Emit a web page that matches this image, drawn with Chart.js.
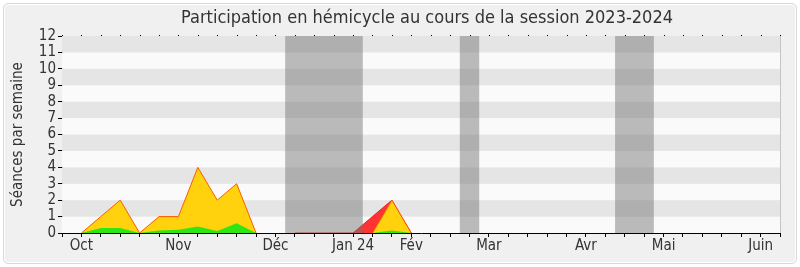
<!DOCTYPE html>
<html lang="fr">
<head>
<meta charset="utf-8">
<script src="https://cdn.jsdelivr.net/npm/chart.js@4/dist/chart.umd.min.js"></script>
<style>
  html, body { margin: 0; padding: 0; background: #ffffff; }
  #wrap { position: relative; width: 800px; height: 267px; }
  #frame {
    position: absolute; left: 3px; top: 3px; right: 3px; bottom: 3px;
    background: #f0f0f0; border: 1px solid #d8d8d8; border-radius: 5px;
    box-shadow: inset 0 0 0 1px #ffffff;
  }
  canvas { position: absolute; left: 0; top: 0; }
</style>
</head>
<body>
<div id="wrap">
  <div id="frame"></div>
  <canvas id="chart" width="800" height="267"></canvas>
</div>
<script>
// Week index 0 = last week of September 2023, 37 = end of June 2024
const weekCount = 37;

// Month labels and the week index they sit on
const monthLabels = ['Oct', 'Nov', 'Déc', 'Jan 24', 'Fév', 'Mar', 'Avr', 'Mai', 'Juin'];
const monthWeeks = [1, 6, 11, 15, 18, 22, 27, 31, 36];

// Parliamentary recess periods (week index ranges)
const recessStart = [11.5, 20.5, 28.5];
const recessEnd = [15.5, 21.5, 30.5];

// Sittings attended per week (null = no data)
const presences = [null, 0, 1, 2, 0, 1, 1, 4, 2, 3, 0, null, null, null, null, null, 0, 2, 0,
  null, null, null, null, null, null, null, null, null, null, null, null, null, null, null, null, null, null, null];
// Sittings with a speech per week
const interventions = [null, 0, 0.3, 0.3, 0, 0.15, 0.2, 0.4, 0.12, 0.6, 0, null, null, null, null, null, 0, 0.15, 0,
  null, null, null, null, null, null, null, null, null, null, null, null, null, null, null, null, null, null, null];
// Sittings held during the extraordinary period
const extraordinaires = [null, null, null, null, null, null, null, null, null, null, null, null, 0, 0, 0, 0, 1, 2, 0,
  null, null, null, null, null, null, null, null, null, null, null, null, null, null, null, null, null, null, null];

// Y axis range
const yMax = 12;

const toPoints = arr => arr.map((v, i) => ({ x: i, y: v }));

const FONT = "'DejaVu Sans Condensed', 'DejaVu Sans', sans-serif";
const TEXT = '#333333';

const backgroundPlugin = {
  id: 'sessionBackground',
  afterLayout(chart) {
    // nudge the title slightly to the right of the plot centre
    const t = chart.titleBlock;
    if (t) { t.left += 6; t.right += 6; }
  },
  beforeDatasetsDraw(chart) {
    const { ctx, chartArea: a, scales: { y } } = chart;
    ctx.save();
    // alternating horizontal stripes, one per unit
    for (let k = 0; k < yMax; k++) {
      const top = y.getPixelForValue(k + 1);
      const bottom = y.getPixelForValue(k);
      ctx.fillStyle = (k % 2 === 1) ? '#e5e5e5' : '#fafafa';
      ctx.fillRect(a.left, top, a.right - a.left, bottom - top);
    }
    ctx.restore();
  },
  afterDatasetsDraw(chart) {
    const { ctx, chartArea: a, scales: { x } } = chart;
    ctx.save();
    // recess shading, laid over the areas
    ctx.fillStyle = 'rgba(118,118,118,0.48)';
    for (let i = 0; i < recessStart.length; i++) {
      const l = x.getPixelForValue(recessStart[i]);
      const r = x.getPixelForValue(recessEnd[i]);
      ctx.fillRect(l, a.top, r - l, a.bottom - a.top);
    }
    ctx.restore();
  },
  afterDraw(chart) {
    const { ctx, chartArea: a, scales: { x } } = chart;
    ctx.save();
    // small tick dots along the top edge
    ctx.fillStyle = '#000000';
    for (let w = 0; w <= weekCount; w++) {
      const px = Math.round(x.getPixelForValue(w));
      ctx.fillRect(px, a.top - 1, 1, 1);
    }
    // right edge of the plot
    ctx.fillStyle = '#c4c4c4';
    ctx.fillRect(Math.round(a.right), a.top, 1, a.bottom - a.top);
    ctx.restore();
  }
};

new Chart(document.getElementById('chart'), {
  type: 'line',
  data: {
    datasets: [
      {
        label: 'Interventions',
        data: toPoints(interventions),
        backgroundColor: '#2ee614',
        borderColor: '#2ee614',
        borderWidth: 0,
        fill: 'origin',
        pointRadius: 0,
        tension: 0,
        spanGaps: false
      },
      {
        label: 'Présences',
        data: toPoints(presences),
        backgroundColor: '#ffd20d',
        borderColor: '#ff5a00',
        borderWidth: 1,
        fill: 'origin',
        pointRadius: 0,
        tension: 0,
        spanGaps: false
      },
      {
        label: 'Session extraordinaire',
        data: toPoints(extraordinaires),
        backgroundColor: '#ff3333',
        borderColor: '#e82020',
        borderWidth: 1,
        fill: 'origin',
        pointRadius: 0,
        tension: 0,
        spanGaps: false
      }
    ]
  },
  options: {
    responsive: false,
    devicePixelRatio: 1,
    animation: false,
    layout: { padding: { left: 0, right: 20, top: 0, bottom: 0 } },
    plugins: {
      legend: { display: false },
      tooltip: { enabled: false },
      title: {
        display: true,
        fullSize: false,
        text: 'Participation en hémicycle au cours de la session 2023-2024',
        color: TEXT,
        font: { family: FONT, size: 18, weight: 'normal' },
        padding: { top: 8, bottom: 6.4 }
      }
    },
    scales: {
      x: {
        type: 'linear',
        min: 0,
        max: weekCount,
        afterFit(axis) { axis.height = 34; },
        afterBuildTicks(axis) {
          const t = [];
          for (let w = 0; w <= weekCount; w++) t.push({ value: w });
          axis.ticks = t;
        },
        ticks: {
          autoSkip: false,
          maxRotation: 0,
          padding: 0,
          color: TEXT,
          font: { family: FONT, size: 15 },
          callback(value) {
            const idx = monthWeeks.indexOf(value);
            return idx >= 0 ? monthLabels[idx] : '';
          }
        },
        grid: { drawOnChartArea: false, drawTicks: true, tickLength: 4, color: '#000000' },
        border: { color: '#000000', width: 1 }
      },
      y: {
        min: 0,
        max: yMax,
        afterFit(axis) { axis.width = 62; },
        ticks: {
          stepSize: 1,
          autoSkip: false,
          padding: 2,
          color: TEXT,
          font: { family: FONT, size: 15 }
        },
        grid: { drawOnChartArea: false, drawTicks: true, tickLength: 4, color: '#000000' },
        border: { color: '#000000', width: 1 },
        title: {
          display: true,
          text: 'Séances par semaine',
          color: TEXT,
          font: { family: FONT, size: 15 },
          padding: { top: 9, bottom: 0 }
        }
      }
    }
  },
  plugins: [backgroundPlugin]
});
</script>
</body>
</html>
